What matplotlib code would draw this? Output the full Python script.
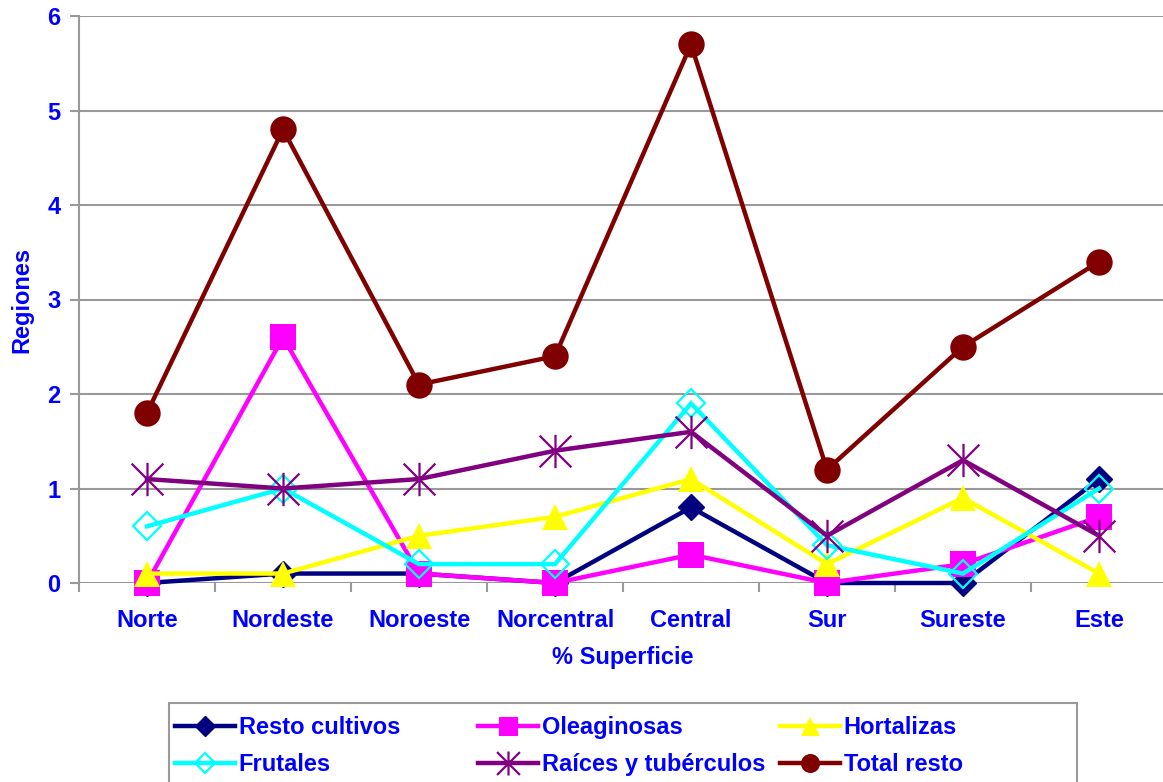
import matplotlib
matplotlib.use("Agg")
import matplotlib.pyplot as plt
from matplotlib.path import Path
from matplotlib.lines import Line2D
from matplotlib.patches import Rectangle

regions = ["Norte", "Nordeste", "Noroeste", "Norcentral", "Central", "Sur", "Sureste", "Este"]
resto_cultivos = [0.0, 0.1, 0.1, 0.0, 0.8, 0.0, 0.0, 1.1]
oleaginosas = [0.0, 2.6, 0.1, 0.0, 0.3, 0.0, 0.2, 0.7]
hortalizas = [0.1, 0.1, 0.5, 0.7, 1.1, 0.2, 0.9, 0.1]
frutales = [0.6, 1.0, 0.2, 0.2, 1.9, 0.4, 0.1, 1.0]
raices = [1.1, 1.0, 1.1, 1.4, 1.6, 0.5, 1.3, 0.5]
total_resto = [1.8, 4.8, 2.1, 2.4, 5.7, 1.2, 2.5, 3.4]
y_ticks = [0, 1, 2, 3, 4, 5, 6]

W, H = 1163, 782
FONT = "Liberation Sans"
BLUE = "#0000FF"
GRAY = "#999999"
FS = 17

star = Path([(0, -1.05), (0, 1.05), (-1, -1), (1, 1), (-1, 1), (1, -1)],
            [Path.MOVETO, Path.LINETO, Path.MOVETO, Path.LINETO, Path.MOVETO, Path.LINETO])

series = [
    ("Resto cultivos", resto_cultivos, dict(color="#000080", marker="D", ms=13.5, mfc="#000080", mec="#000080", mew=1)),
    ("Oleaginosas", oleaginosas, dict(color="#FF00FF", marker="s", ms=19, mfc="#FF00FF", mec="#FF00FF", mew=0)),
    ("Hortalizas", hortalizas, dict(color="#FFFF00", marker="^", ms=19, mfc="#FFFF00", mec="#FFFF00", mew=0)),
    ("Frutales", frutales, dict(color="#00FFFF", marker="D", ms=14, mfc="none", mec="#00FFFF", mew=1.6)),
    ("Raíces y tubérculos", raices, dict(color="#800080", marker=star, ms=24, mfc="none", mec="#800080", mew=1.6)),
    ("Total resto", total_resto, dict(color="#800000", marker="o", ms=19, mfc="#800000", mec="#800000", mew=0)),
]

fig = plt.figure(figsize=(W / 100, H / 100), dpi=100)
ax = fig.add_axes([79 / W, (H - 583) / H, 1088 / W, 567 / H])

x = list(range(len(regions)))
handles = {}
for name, vals, st in series:
    ax.plot(x, vals, lw=3.2, solid_joinstyle="miter", clip_on=False, **st)
    pst = dict(st)
    pst["ms"] = st["ms"] * 0.72
    handles[name] = Line2D([], [], lw=3.2, **pst)

ax.set_xlim(-0.5, len(regions) - 0.5)
ax.set_ylim(0, 6)
ax.set_yticks(y_ticks)
ax.set_xticks(x)
ax.set_xticklabels(regions)
ax.set_xticks([i + 0.5 for i in range(-1, len(regions))], minor=True)

for s in ["top", "right", "bottom"]:
    ax.spines[s].set_visible(False)
ax.spines["left"].set_color(GRAY)
ax.spines["left"].set_linewidth(1.5)
ax.yaxis.grid(True, color=GRAY, lw=1.5)
ax.set_axisbelow(True)

ax.tick_params(axis="y", length=6.5, width=1.5, color=GRAY, pad=7)
ax.tick_params(axis="x", which="major", length=0, pad=19)
ax.tick_params(axis="x", which="minor", length=6.5, width=1.5, color=GRAY)

for lab in ax.get_xticklabels() + ax.get_yticklabels():
    lab.set_fontfamily(FONT)
    lab.set_fontweight("bold")
    lab.set_fontsize(FS)
    lab.set_color(BLUE)

ax.set_xlabel("% Superficie", fontfamily=FONT, fontweight="bold", fontsize=FS, color=BLUE, labelpad=10)
ax.set_ylabel("Regiones", fontfamily=FONT, fontweight="bold", fontsize=FS, color=BLUE, labelpad=10)

fig.add_artist(Rectangle((169 / W, (H - 800) / H), (1077 - 169) / W, (800 - 703) / H,
                         transform=fig.transFigure, fill=False, edgecolor=GRAY, lw=1.5, clip_on=False))

cols = [(["Resto cultivos", "Frutales"], 175),
        (["Oleaginosas", "Raíces y tubérculos"], 478),
        (["Hortalizas", "Total resto"], 780)]
for names, xpx in cols:
    fig.legend([handles[n] for n in names], names, loc="upper left",
               bbox_to_anchor=(xpx / W, (H - 716) / H), frameon=False,
               borderpad=0, borderaxespad=0, handlelength=2.55, handletextpad=0.15,
               labelspacing=0.6,
               prop=dict(family=FONT, weight="bold", size=FS), labelcolor=BLUE)

fig.savefig("out.png", dpi=100)
